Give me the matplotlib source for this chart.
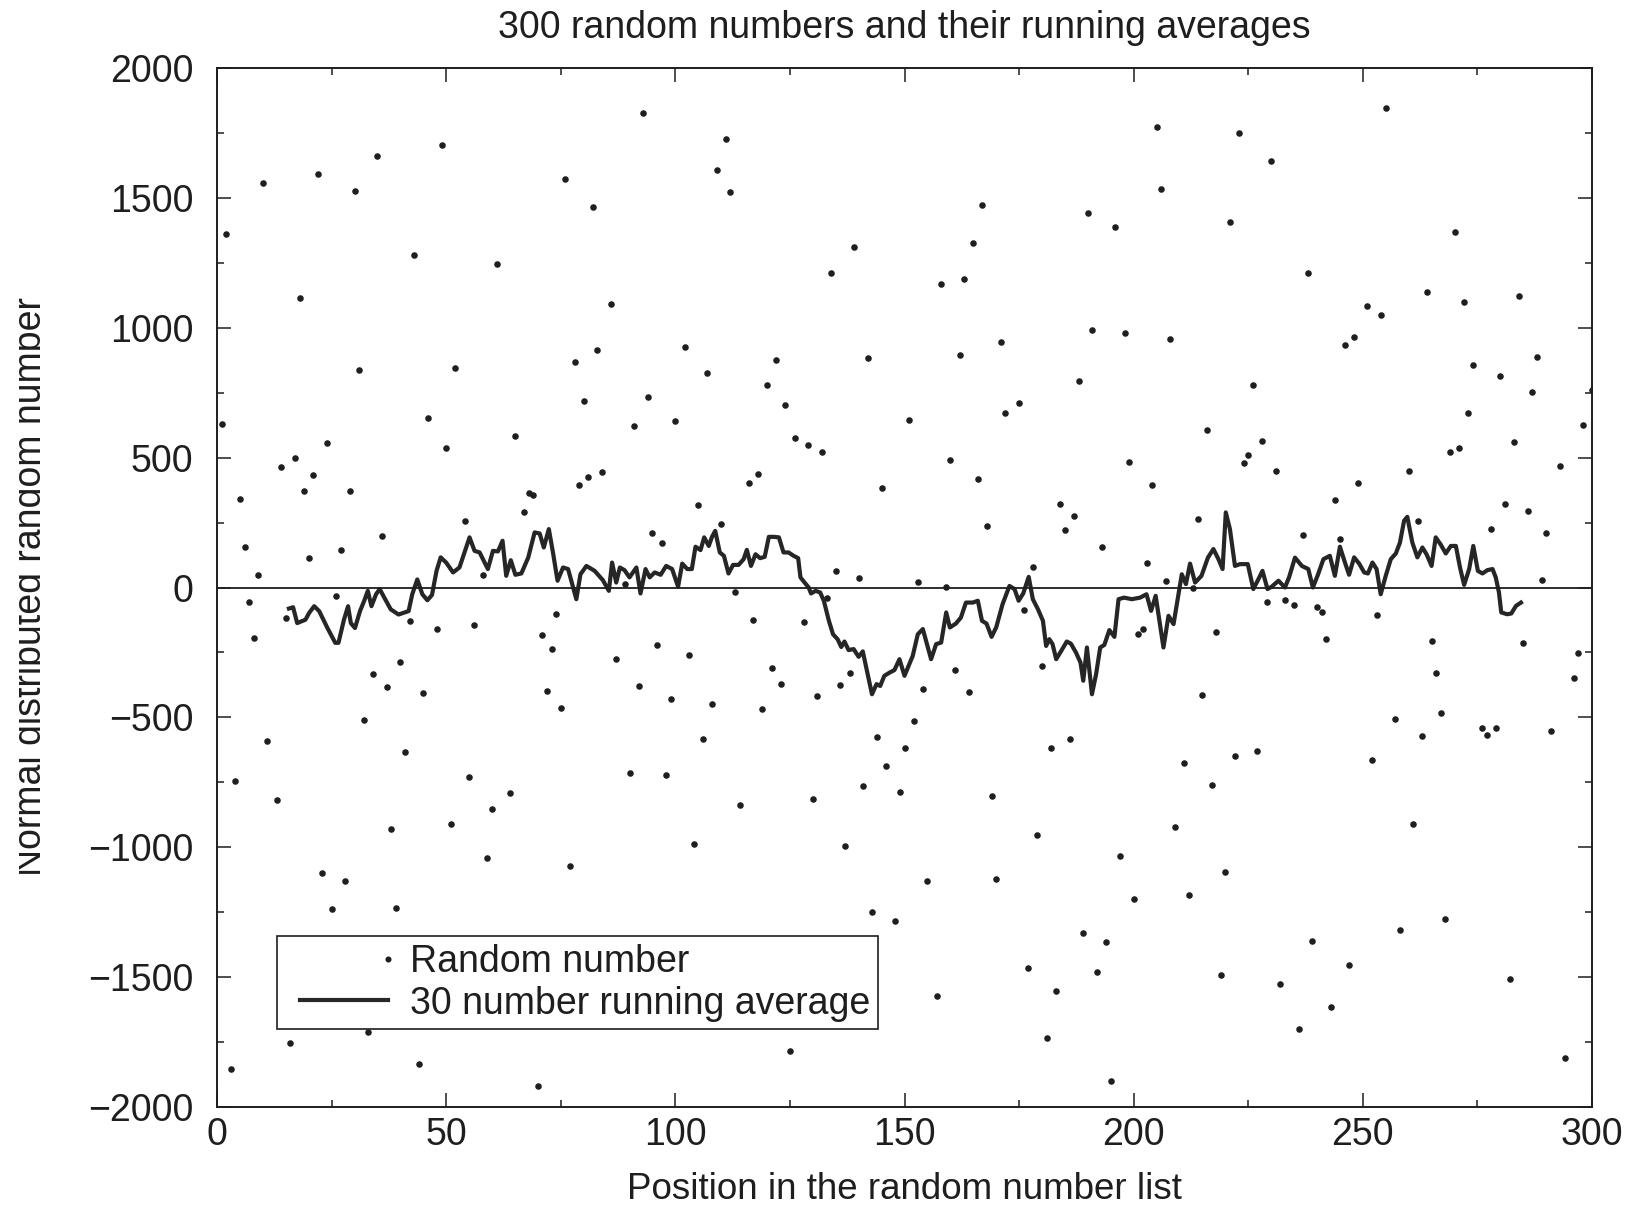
import matplotlib
matplotlib.use("Agg")
import numpy as np
import matplotlib.pyplot as plt
from matplotlib.ticker import MultipleLocator
from matplotlib.legend_handler import HandlerLine2D
from matplotlib.transforms import Bbox

plt.rcParams['font.family'] = ['Liberation Sans', 'DejaVu Sans']

# ---- data ----
pt_x = [1, 2, 3, 4, 5, 6, 7, 8, 9, 10, 11, 13, 14, 15, 16, 17, 18, 19, 20,
        21, 22, 23, 24, 25, 26, 27, 28, 29, 30, 31, 32, 33, 34, 35, 36, 37,
        38, 39, 40, 41, 42, 43, 44, 45, 46, 48, 49, 50,
        51, 52, 53, 54, 55, 56, 58, 59, 60, 61, 64, 65, 67, 68, 69, 70, 71,
        72, 73, 74, 75, 76, 77, 78, 79, 80, 81, 82, 83, 84, 86, 87, 89, 90,
        91, 92, 93, 94, 95, 96, 97, 98, 99, 100,
        102, 103, 104, 105, 106, 107, 108, 109, 110, 111, 112, 113, 114, 116,
        117, 118, 119, 120, 121, 122, 123, 124, 125, 126, 128, 129, 130, 131,
        132, 133, 134, 135, 136, 137, 138, 139, 140, 141, 142, 143, 144, 145,
        146, 148, 149, 150,
        151, 152, 153, 154, 155, 157, 158, 159, 160, 161, 162, 163, 164, 165,
        166, 167, 168, 169, 170, 171, 172, 175, 176, 177, 178, 179, 180, 181,
        182, 183, 184, 185, 186, 187, 188, 189, 190, 191, 192, 193, 194, 195,
        196, 197, 198, 199, 200,
        201, 202, 203, 204, 205, 206, 207, 208, 209, 211, 212, 213, 214, 215,
        216, 217, 218, 219, 220, 221, 222, 223, 224, 225, 226, 227, 228, 229,
        230, 231, 232, 233, 235, 236, 237, 238, 239, 240, 241, 242, 243, 244,
        245, 246, 247, 248, 249,
        251, 252, 253, 254, 255, 257, 258, 260, 261, 262, 263, 264, 265, 266,
        267, 268, 269, 270, 271, 272, 273, 274, 276, 277, 278, 279, 280, 281,
        282, 283, 284, 285, 286, 287, 288, 289, 290, 291, 293, 294, 296, 297,
        298, 300]
pt_y = [630, 1360, -1854, -746, 339, 155, -57, -194, 49, 1556, -590, -818,
        463, -116, -1755, 500, 1113, 370, 114, 432, 1592, -1098, 557, -1238,
        -34, 145, -1129, 370, 1527, 839, -510, -1711, -334, 1662, 197, -383,
        -929, -1232, -287, -632, -129, 1281, -1833, -406, 652, -160, 1704, 536,
        -911, 844, -1538, 256, -730, -145, 47, -1041, -854, 1245, -790, 585,
        290, 365, 355, -1918, -184, -398, -237, -103, -465, 1574, -1072, 870,
        396, 717, 427, 1463, 914, 443, 1093, -274, 13, -715, 621, -381, 1825,
        735, 210, -223, 173, -722, -430, 642,
        927, -261, -986, 316, -585, 826, -450, 1608, 246, 1727, 1522, -16,
        -839, 404, -127, 438, -466, 779, -308, 875, -370, 702, -1784, 575,
        -132, 549, -816, -417, 520, -41, 1212, 62, -375, -994, -331, 1310, 36,
        -766, 883, -1250, -577, 383, -686, -1284, -787, -619,
        645, -515, 21, -391, -1129, -1571, 1170, 3, 492, -318, 896, 1188, -404,
        1326, 417, 1471, 238, -803, -1121, 945, 673, 709, -88, -1465, 78, -954,
        -303, -1735, -619, -1555, 321, 223, -585, 277, 795, -1331, 1440, 992,
        -1481, 155, -1364, -1898, 1388, -1033, 981, 484, -1201,
        -180, -160, 96, 396, 1771, 1533, 26, 958, -922, -675, -1183, 0, 264,
        -412, 606, -761, -171, -1491, -1095, 1406, -650, 1748, 479, 512, 781,
        -629, 564, -57, 1641, 450, -1527, -49, -67, -1698, 202, 1212, -1359,
        -75, -93, -197, -1616, 337, 186, 932, -1455, 966, 404,
        1083, -663, -104, 1051, 1846, -507, -1318, 448, -909, 256, -572, 1139,
        -205, -329, -484, -1276, 523, 1367, 536, 1100, 673, 857, -539, -567,
        225, -541, 813, 321, -1509, 559, 1121, -212, 293, 751, 888, 28, 210,
        -554, 469, -1812, -347, -254, 627, 761]

avg_x = [15.7, 16.6, 17.5, 19.3, 20.1, 21.2, 22.3, 24.1, 25.8, 26.5, 27.7,
         28.6, 29.2, 30.1, 31.2, 32.1, 32.9, 33.7, 34.7, 35.5, 36.5, 37.9,
         39.6, 41.8, 42.6, 43.7, 44.8, 45.9, 46.9, 47.9,
         48.8, 50.0, 51.5, 52.9, 55.1, 56.2, 57.3, 59.1, 60.2, 61.3, 62.3,
         63.1, 64.1, 65.1, 66.4, 67.9, 69.3, 70.4, 71.3, 72.4, 73.3, 74.3,
         75.5, 76.6, 78.4, 79.3, 80.6, 82.4, 84.2, 85.5, 86.2, 87.1, 87.9,
         88.9, 90.0, 91.5, 92.4, 93.5, 94.4, 95.5, 96.8, 98.0,
         99.3, 100.6, 101.5, 102.6, 103.6, 104.4, 105.5, 106.3, 107.3, 108.0,
         108.7, 109.7, 110.6, 111.6, 112.6, 113.8, 114.9, 115.6, 116.5, 117.5,
         118.5, 119.5, 120.4, 121.5, 122.6, 123.6, 124.7, 125.8, 126.8, 127.3,
         128.2, 129.1, 129.6, 130.6, 131.6, 132.4, 133.5, 134.4, 135.4, 136.2,
         136.9, 137.8, 138.9, 140.0, 140.9, 141.8, 142.9, 143.9, 144.7, 145.6,
         146.8, 147.8,
         148.9, 150.0, 151.8, 152.9, 154.0, 155.8, 156.9, 158.0, 159.1, 159.9,
         161.2, 162.3, 163.4, 164.9, 166.0, 166.9, 167.9, 169.0, 170.0, 171.4,
         172.9, 174.0, 174.9, 175.9, 177.1, 178.0, 179.1, 180.2, 180.9, 181.6,
         182.3, 183.1, 184.2, 185.4, 186.3, 187.4, 188.4, 189.0, 189.8, 190.9,
         191.8, 192.7, 193.6, 194.7, 195.8, 196.7, 197.9,
         199.6, 201.4, 202.8, 203.8, 204.8, 206.5, 207.6, 208.7, 209.8, 210.5,
         211.4, 212.3, 213.4, 214.8, 216.2, 217.4, 218.5, 219.4, 220.1, 221.0,
         222.1, 223.2, 224.9, 226.1, 227.1, 228.1, 229.2, 230.1, 231.6, 233.0,
         233.9, 235.2, 236.7, 238.1, 239.1, 240.2, 241.4, 242.8, 243.9, 245.0,
         246.1, 247.0,
         248.1, 249.2, 250.3, 251.1, 252.1, 253.0, 253.9, 255.0, 256.1, 257.2,
         258.1, 259.0, 259.7, 260.8, 261.9, 263.0, 263.9, 265.0, 265.9, 267.0,
         268.1, 269.2, 270.3, 271.2, 272.1, 273.2, 274.1, 275.1, 276.1, 277.2,
         278.3, 279.0, 279.7, 280.2, 281.5, 282.4, 283.4, 284.5]
avg_y = [-81, -76, -137, -124, -98, -72, -91, -156, -213, -213, -124, -72,
         -137, -156, -91, -52, -13, -72, -26, -6, -39, -84, -104, -91, -26, 31,
         -26, -49, -29, 64,
         116, 96, 58, 77, 193, 141, 135, 71, 141, 139, 180, 45, 105, 49, 54,
         115, 212, 208, 154, 225, 135, 26, 77, 71, -45, 51, 83, 64, 28, -13,
         96, 19, 77, 67, 39, 77, -23, 71, 39, 58, 49, 83,
         71, 3, 92, 71, 71, 157, 144, 193, 160, 195, 218, 135, 122, 54, 87, 87,
         109, 145, 83, 128, 113, 118, 195, 195, 193, 135, 135, 122, 113, 39,
         19, 0, -23, -13, -19, -51, -128, -180, -199, -229, -208, -241, -237,
         -267, -246, -321, -411, -372, -379, -340, -327, -318,
         -276, -340, -263, -180, -160, -276, -218, -212, -96, -154, -139, -116,
         -58, -58, -51, -128, -139, -190, -154, -64, 6, -6, -51, -23, 41, -45,
         -83, -128, -225, -199, -218, -276, -244, -208, -216, -250, -289, -359,
         -231, -411, -334, -231, -221, -164, -190, -45, -39,
         -45, -39, -26, -90, -32, -231, -109, -141, -23, 51, 13, 92, 19, 45,
         115, 148, 109, 71, 289, 225, 83, 90, 90, -6, 28, 64, -6, 3, 26, 0, 39,
         115, 83, 71, 0, 49, 109, 122, 45, 157, 96, 49,
         116, 92, 58, 54, 96, 71, -26, 45, 109, 131, 173, 257, 272, 173, 116,
         154, 128, 83, 193, 165, 131, 160, 160, 77, 10, 71, 160, 64, 54, 67,
         71, 39, -19, -96, -103, -100, -71, -58]

title = "300 random numbers and their running averages"
xlabel = "Position in the random number list"
ylabel = "Normal distributed random number"
legend_labels = ["Random number", "30 number running average"]


class TrimmedHandle(HandlerLine2D):
    """Legend handle whose line starts a bit inside the handle box and whose
    single marker sits at the right end."""
    def __init__(self, trim_frac=0.15, **kw):
        super().__init__(**kw)
        self.trim_frac = trim_frac

    def create_artists(self, legend, orig_handle, xdescent, ydescent,
                       width, height, fontsize, trans):
        arts = super().create_artists(legend, orig_handle, xdescent, ydescent,
                                      width, height, fontsize, trans)
        for a in arts:
            x = np.asarray(a.get_xdata(), dtype=float)
            start = x[0] + self.trim_frac * (x[-1] - x[0])
            a.set_xdata(np.linspace(start, x[-1], len(x)))
            a.set_markevery([len(x) - 1])
        return arts


# ---- figure ----
W, H = 1635, 1210
fig = plt.figure(figsize=(W / 100, H / 100), dpi=100)
ax = fig.add_axes([217 / W, 1 - 1107 / H, (1592 - 217) / W, (1107 - 68) / H])

ink = '#1e1e1e'
pts, = ax.plot(pt_x, pt_y, linestyle='none', marker='o', markersize=3.7,
               color=ink, label=legend_labels[0])
avg, = ax.plot(avg_x, avg_y, color='#262626', linewidth=3.0,
               label=legend_labels[1])
ax.axhline(0, color=ink, linewidth=1.3)

ax.set_xlim(0, 300)
ax.set_ylim(-2000, 2000)
ax.xaxis.set_major_locator(MultipleLocator(50))
ax.xaxis.set_minor_locator(MultipleLocator(25))
ax.yaxis.set_major_locator(MultipleLocator(500))
ax.yaxis.set_minor_locator(MultipleLocator(250))
ax.tick_params(which='both', direction='in', top=True, right=True,
               colors=ink, width=1.1)
ax.tick_params(which='major', length=10, labelsize=27)
ax.tick_params(which='minor', length=5)
ax.tick_params(axis='y', pad=17)
ax.tick_params(axis='x', pad=7)
for s in ax.spines.values():
    s.set_linewidth(1.4)
    s.set_color(ink)

fig.text(0.553, 1 - 38 / H, title, ha='center', va='baseline',
         fontsize=27, color=ink)
fig.text(0.553, 1 - 1199 / H, xlabel, ha='center', va='baseline',
         fontsize=26.5, color=ink)
yl = fig.text(41 / W, 1 - 587 / H, ylabel, rotation=90, rotation_mode='anchor',
              ha='center', va='baseline', fontsize=27, color=ink)
yl.set_clip_box(Bbox([[19, 0], [W, H]]))
yl.set_clip_on(True)

leg = ax.legend(loc='lower left', bbox_to_anchor=(0.0436, 0.075),
                borderaxespad=0, fancybox=False, framealpha=1,
                edgecolor=ink, fontsize=27, handlelength=2.75,
                borderpad=0.2, labelspacing=0.15, handletextpad=0.6,
                markerscale=0.9, numpoints=1,
                handler_map={pts: TrimmedHandle(numpoints=1),
                             avg: TrimmedHandle(numpoints=1)})
leg.get_frame().set_linewidth(1.2)
for t in leg.get_texts():
    t.set_color(ink)

fig.savefig("out.png", dpi=100)
